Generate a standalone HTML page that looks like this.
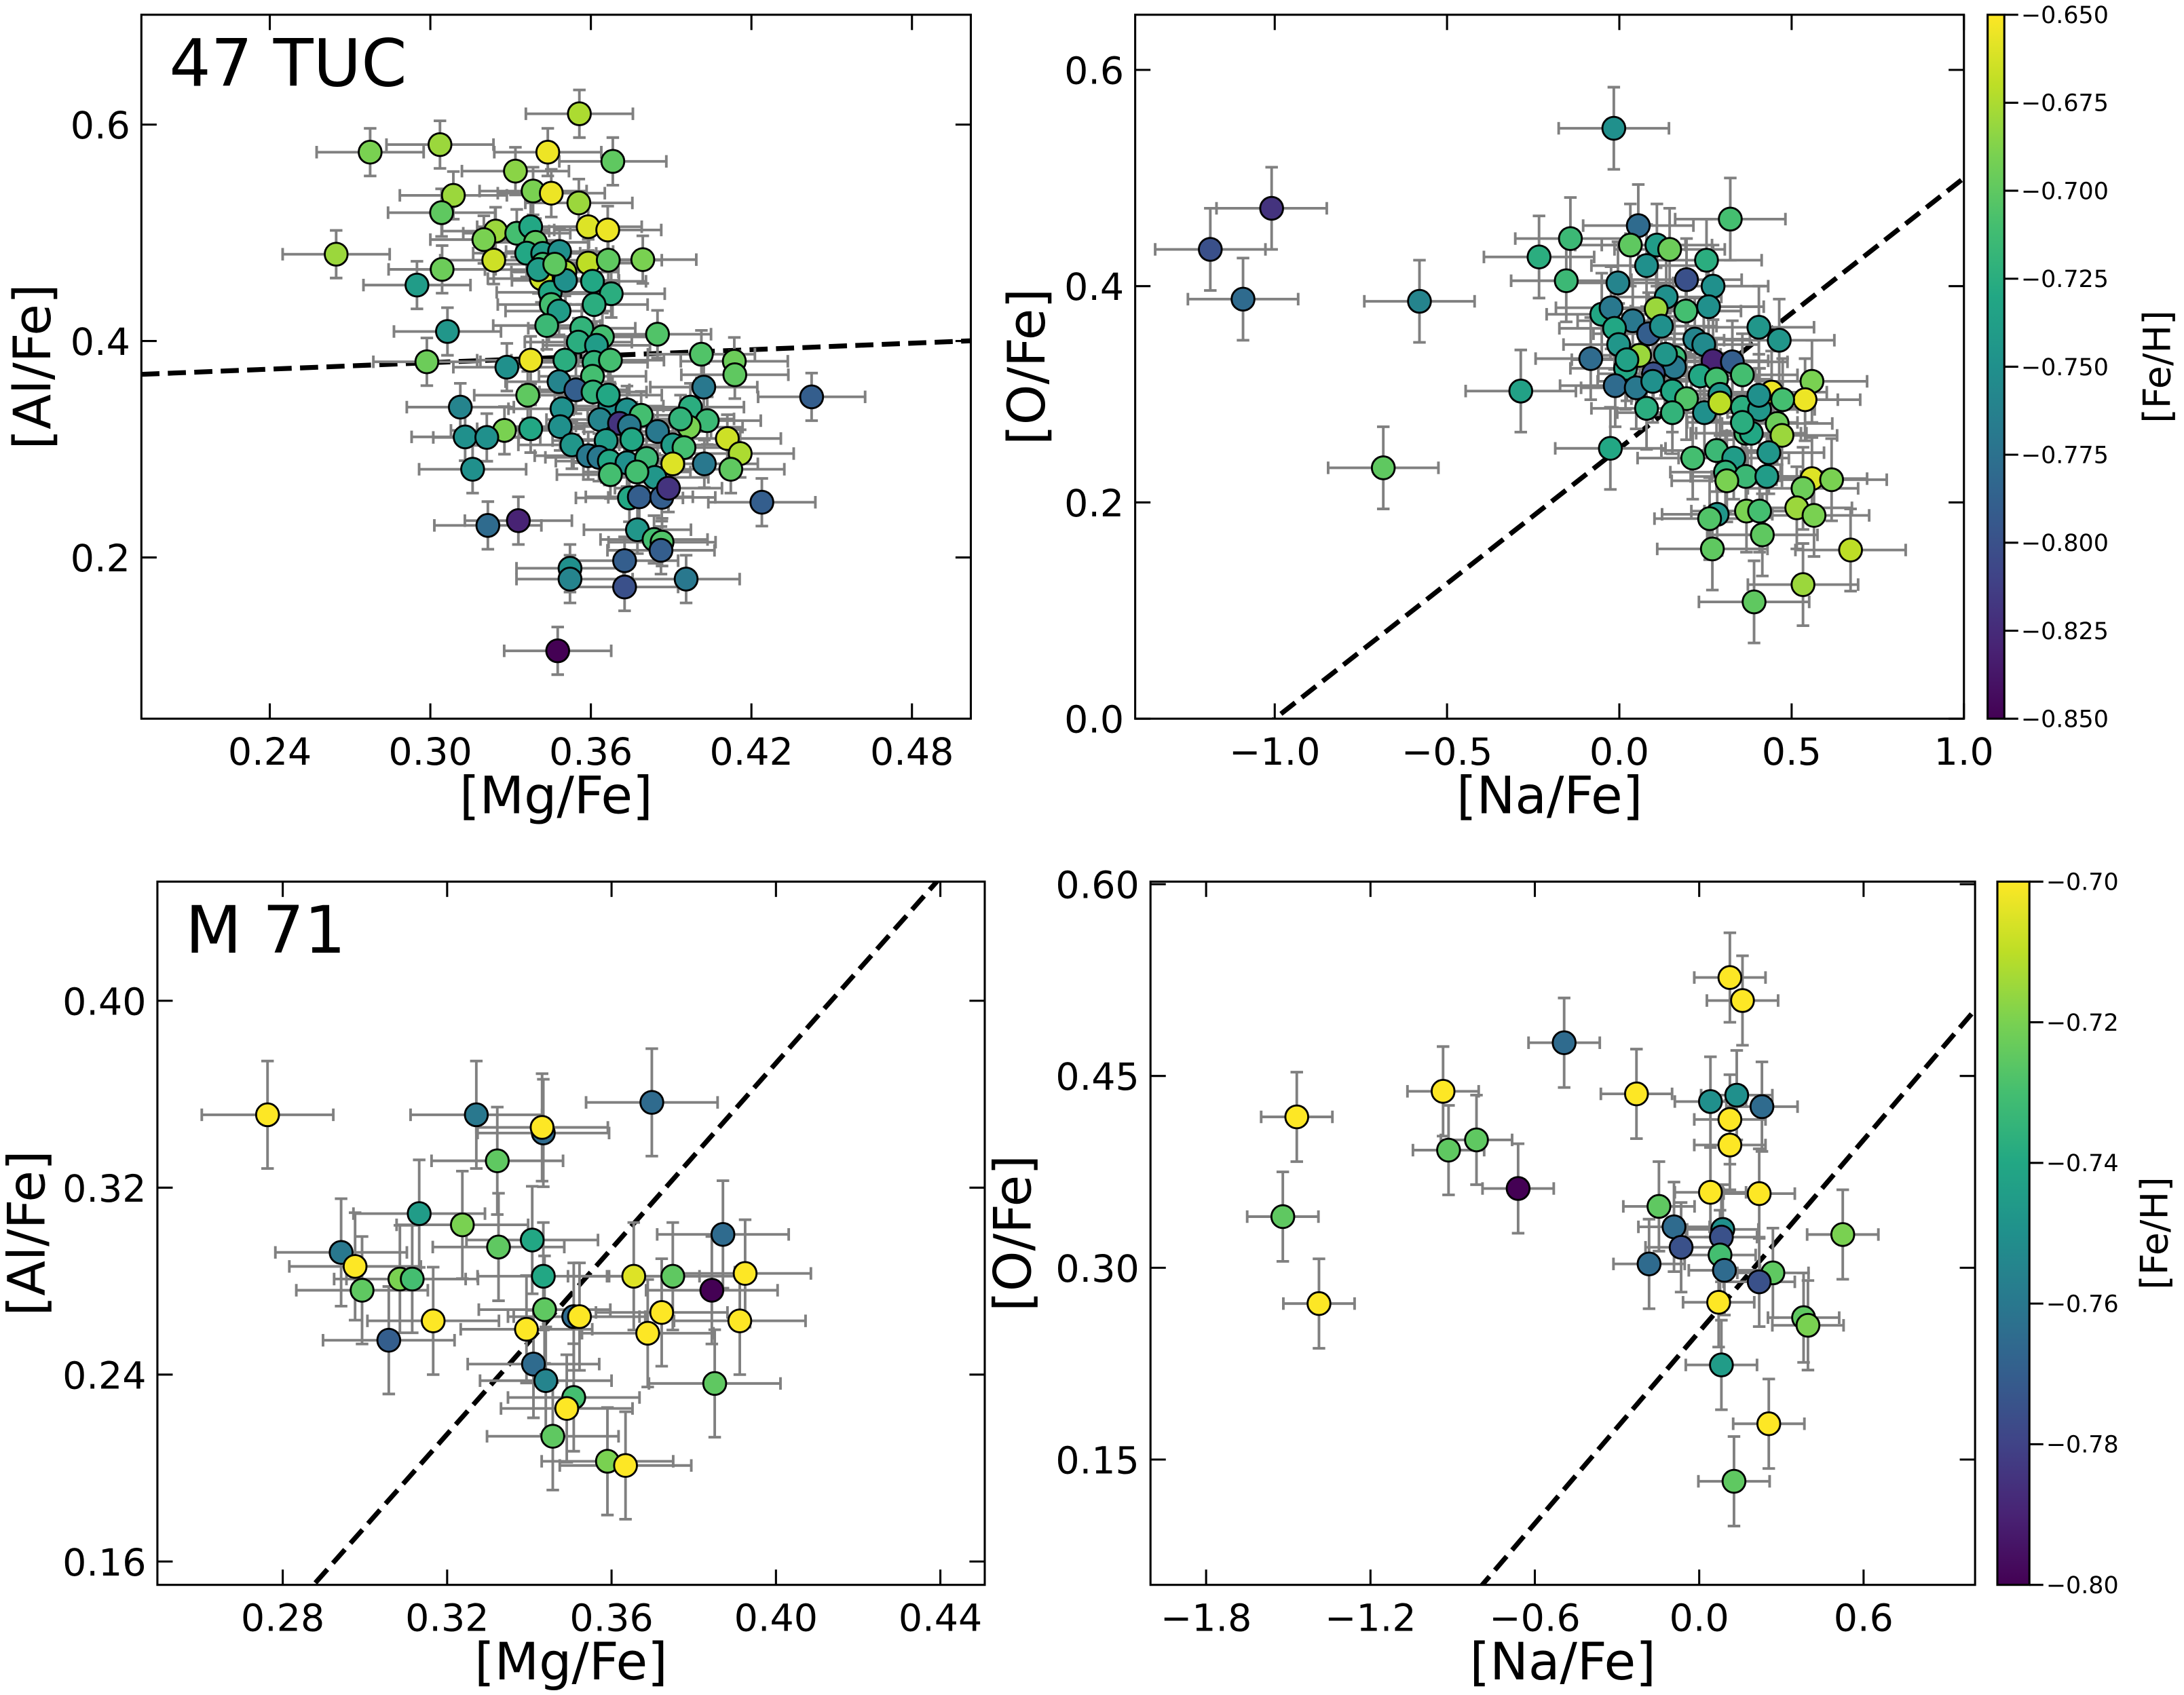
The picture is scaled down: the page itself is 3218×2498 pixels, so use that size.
<!DOCTYPE html>
<html><head><meta charset="utf-8"><style>
html,body{margin:0;padding:0;background:#fff;overflow:hidden;}
svg{display:block;font-family:"DejaVu Sans","Liberation Sans",sans-serif;}
</style></head><body>
<svg id="fig" width="3218" height="2498" viewBox="0 0 1568 1217" xmlns="http://www.w3.org/2000/svg"></svg>
<script>
// ---- Panel A: 47 Tuc [Mg/Fe] vs [Al/Fe]
const tlMg=[0.3557,0.2775,0.3036,0.3439,0.3682,0.3318,0.3086,0.3384,0.3452,0.3042,0.3555,0.359,0.3663,0.3244,0.32,0.3323,0.3375,0.3393,0.2648,0.3237,0.336,0.342,0.3483,0.359,0.3665,0.3794,0.3044,0.342,0.3503,0.295,0.3415,0.3606,0.3676,0.3448,0.3505,0.3452,0.3481,0.3612,0.3435,0.3566,0.3064,0.3849,0.3643,0.3553,0.3621,0.2987,0.3375,0.3286,0.3503,0.3612,0.3673,0.3606,0.4013,0.4136,0.4138,0.3481,0.3544,0.4022,0.4425,0.3364,0.3112,0.3492,0.3671,0.3735,0.3788,0.3972,0.4035,0.3967,0.3634,0.3707,0.3744,0.3375,0.3485,0.3277,0.313,0.3211,0.3849,0.411,0.3529,0.3657,0.3753,0.3906,0.3948,0.4158,0.359,0.363,0.3669,0.3735,0.3808,0.3906,0.4024,0.4123,0.3158,0.3673,0.3839,0.3744,0.3781,0.3865,0.389,0.4239,0.3215,0.3329,0.3774,0.3836,0.3866,0.3862,0.3726,0.3522,0.3522,0.3726,0.3956,0.3476,0.3608,0.3665,0.3935,0.3772,0.3404,0.3465];
const tlAl=[0.610,0.5745,0.5815,0.5745,0.566,0.557,0.5346,0.5386,0.5366,0.5186,0.5276,0.5056,0.5026,0.5016,0.4937,0.4996,0.5056,0.4912,0.4802,0.4747,0.4812,0.481,0.4827,0.472,0.4747,0.4752,0.4662,0.471,0.4637,0.4517,0.4577,0.4552,0.4437,0.445,0.456,0.4337,0.4277,0.4337,0.4143,0.4118,0.4088,0.4063,0.4038,0.399,0.396,0.3808,0.3823,0.3758,0.3823,0.3803,0.3823,0.3674,0.3878,0.3813,0.3688,0.3624,0.3549,0.3574,0.3484,0.3499,0.3389,0.3374,0.3399,0.3364,0.3314,0.3389,0.3264,0.3204,0.3274,0.3239,0.3214,0.3189,0.3209,0.3174,0.3114,0.3109,0.3164,0.3099,0.304,0.308,0.309,0.304,0.3015,0.296,0.294,0.2925,0.289,0.2875,0.2915,0.2865,0.2865,0.2815,0.2815,0.2765,0.274,0.255,0.256,0.2555,0.264,0.251,0.2296,0.234,0.2256,0.2166,0.2141,0.2066,0.197,0.19,0.18,0.1727,0.18,0.1137,0.3529,0.35,0.328,0.279,0.466,0.471];
const tlFe=[-0.675,-0.69,-0.68,-0.655,-0.70,-0.685,-0.68,-0.69,-0.655,-0.70,-0.68,-0.66,-0.655,-0.68,-0.69,-0.71,-0.73,-0.70,-0.68,-0.665,-0.73,-0.74,-0.75,-0.67,-0.70,-0.69,-0.695,-0.71,-0.675,-0.74,-0.665,-0.73,-0.725,-0.73,-0.75,-0.71,-0.74,-0.725,-0.715,-0.72,-0.745,-0.705,-0.71,-0.725,-0.74,-0.695,-0.655,-0.75,-0.725,-0.72,-0.71,-0.71,-0.705,-0.695,-0.70,-0.76,-0.79,-0.77,-0.79,-0.70,-0.76,-0.75,-0.75,-0.75,-0.71,-0.725,-0.715,-0.69,-0.76,-0.82,-0.77,-0.73,-0.75,-0.69,-0.75,-0.75,-0.77,-0.665,-0.745,-0.74,-0.73,-0.74,-0.71,-0.675,-0.77,-0.77,-0.73,-0.75,-0.715,-0.66,-0.77,-0.70,-0.75,-0.71,-0.745,-0.73,-0.79,-0.79,-0.82,-0.79,-0.78,-0.83,-0.745,-0.71,-0.705,-0.79,-0.79,-0.75,-0.76,-0.80,-0.77,-0.85,-0.72,-0.73,-0.72,-0.71,-0.74,-0.70];
const tlXTicks=[0.24,0.30,0.36,0.42,0.48];
const tlXTickLabels=["0.24","0.30","0.36","0.42","0.48"];
const tlYTicks=[0.2,0.4,0.6];
const tlYTickLabels=["0.2","0.4","0.6"];

// ---- Panel B: 47 Tuc [Na/Fe] vs [O/Fe]
const trNa=[-0.016,-1.009,-1.187,-1.092,-0.58,-0.286,-0.685,-0.026,0.322,0.055,-0.142,0.032,0.109,0.146,-0.233,0.253,0.079,-0.154,-0.004,0.195,0.272,0.136,0.193,0.107,0.259,-0.051,-0.024,0.039,-0.014,0.085,0.122,0.405,0.464,-0.002,0.219,0.245,-0.083,0.059,0.16,0.272,0.328,0.16,0.018,0.099,0.235,0.282,0.357,0.559,-0.012,0.049,0.097,0.154,0.292,0.442,0.539,0.474,0.195,0.079,0.154,0.247,0.292,0.357,0.407,0.458,0.472,0.367,0.383,0.434,0.282,0.332,0.213,0.308,0.367,0.428,0.312,0.559,0.616,0.533,0.515,0.565,0.369,0.407,0.284,0.262,0.415,0.27,0.671,0.533,0.391,0.022,0.134,0.405,0.357];
const trO=[0.546,0.472,0.434,0.388,0.386,0.303,0.232,0.25,0.462,0.456,0.444,0.438,0.438,0.434,0.427,0.424,0.419,0.405,0.403,0.406,0.40,0.39,0.377,0.379,0.381,0.374,0.38,0.368,0.361,0.356,0.363,0.362,0.35,0.346,0.351,0.346,0.333,0.336,0.334,0.331,0.33,0.325,0.324,0.319,0.317,0.314,0.318,0.312,0.308,0.306,0.312,0.303,0.30,0.302,0.295,0.295,0.296,0.287,0.283,0.283,0.292,0.288,0.286,0.273,0.262,0.264,0.264,0.246,0.248,0.241,0.241,0.228,0.224,0.224,0.22,0.222,0.221,0.213,0.195,0.188,0.192,0.192,0.189,0.185,0.17,0.157,0.156,0.124,0.108,0.332,0.337,0.299,0.274];
const trFe=[-0.75,-0.82,-0.80,-0.78,-0.76,-0.735,-0.70,-0.73,-0.71,-0.78,-0.715,-0.70,-0.74,-0.695,-0.725,-0.725,-0.75,-0.715,-0.76,-0.80,-0.75,-0.75,-0.71,-0.68,-0.75,-0.73,-0.77,-0.77,-0.73,-0.79,-0.75,-0.745,-0.745,-0.745,-0.76,-0.755,-0.78,-0.68,-0.715,-0.83,-0.79,-0.77,-0.73,-0.80,-0.73,-0.71,-0.71,-0.69,-0.78,-0.77,-0.75,-0.73,-0.745,-0.655,-0.655,-0.71,-0.705,-0.725,-0.72,-0.75,-0.67,-0.725,-0.745,-0.695,-0.68,-0.71,-0.73,-0.745,-0.715,-0.74,-0.71,-0.72,-0.715,-0.74,-0.69,-0.66,-0.69,-0.695,-0.68,-0.69,-0.69,-0.71,-0.745,-0.705,-0.70,-0.70,-0.67,-0.68,-0.70,-0.735,-0.745,-0.75,-0.725];
const trXTicks=[-1.0,-0.5,0.0,0.5,1.0];
const trXTickLabels=["\u22121.0","\u22120.5","0.0","0.5","1.0"];
const trYTicks=[0.0,0.2,0.4,0.6];
const trYTickLabels=["0.0","0.2","0.4","0.6"];
const trCbTicks=[-0.85,-0.825,-0.8,-0.775,-0.75,-0.725,-0.7,-0.675,-0.65];
const trCbLabels=["\u22120.850","\u22120.825","\u22120.800","\u22120.775","\u22120.750","\u22120.725","\u22120.700","\u22120.675","\u22120.650"];

// ---- Panel C: M71 [Mg/Fe] vs [Al/Fe]
const blMg=[0.2763,0.3271,0.3434,0.3431,0.3698,0.3322,0.3132,0.3237,0.3407,0.3325,0.3871,0.2942,0.2976,0.3085,0.3115,0.2993,0.3434,0.3654,0.3749,0.3925,0.3844,0.3437,0.3508,0.3522,0.3166,0.3722,0.3912,0.3393,0.3058,0.3688,0.341,0.344,0.3851,0.3508,0.3491,0.3457,0.359,0.3634];
const blAl=[0.3512,0.3512,0.3434,0.3458,0.3565,0.3315,0.3089,0.3041,0.2976,0.2946,0.30,0.2923,0.2863,0.2809,0.2809,0.2761,0.2821,0.2821,0.2821,0.2833,0.2761,0.2678,0.2648,0.2648,0.263,0.2666,0.263,0.2594,0.2547,0.2577,0.2445,0.2374,0.2362,0.2302,0.2255,0.2136,0.2029,0.2011];
const blFe=[-0.70,-0.76,-0.765,-0.70,-0.765,-0.725,-0.745,-0.72,-0.74,-0.725,-0.765,-0.76,-0.70,-0.72,-0.73,-0.725,-0.74,-0.705,-0.725,-0.70,-0.80,-0.725,-0.765,-0.70,-0.70,-0.70,-0.70,-0.70,-0.77,-0.70,-0.765,-0.755,-0.725,-0.73,-0.70,-0.725,-0.72,-0.70];
const blXTicks=[0.28,0.32,0.36,0.40,0.44];
const blXTickLabels=["0.28","0.32","0.36","0.40","0.44"];
const blYTicks=[0.16,0.24,0.32,0.40];
const blYTickLabels=["0.16","0.24","0.32","0.40"];

// ---- Panel D: M71 [Na/Fe] vs [O/Fe]
const brNa=[0.112,0.158,-0.493,-0.935,-0.229,0.041,0.137,0.229,-1.469,0.112,0.112,-0.813,-0.915,-0.661,0.041,0.219,-0.147,-1.52,0.524,-0.092,0.086,0.081,-0.066,0.076,-0.183,0.269,0.092,0.219,0.071,-1.388,0.381,0.397,0.081,0.254,0.127];
const brO=[0.527,0.509,0.476,0.438,0.436,0.430,0.435,0.426,0.418,0.416,0.396,0.40,0.392,0.362,0.359,0.358,0.348,0.34,0.326,0.332,0.330,0.324,0.316,0.31,0.303,0.296,0.298,0.289,0.273,0.272,0.261,0.255,0.224,0.178,0.133];
const brFe=[-0.70,-0.70,-0.765,-0.70,-0.70,-0.75,-0.75,-0.765,-0.70,-0.70,-0.70,-0.725,-0.725,-0.80,-0.70,-0.70,-0.725,-0.725,-0.72,-0.765,-0.75,-0.775,-0.775,-0.73,-0.765,-0.725,-0.765,-0.775,-0.70,-0.70,-0.725,-0.72,-0.745,-0.70,-0.725];
const brXTicks=[-1.8,-1.2,-0.6,0.0,0.6];
const brXTickLabels=["\u22121.8","\u22121.2","\u22120.6","0.0","0.6"];
const brYTicks=[0.15,0.30,0.45,0.60];
const brYTickLabels=["0.15","0.30","0.45","0.60"];
const brCbTicks=[-0.80,-0.78,-0.76,-0.74,-0.72,-0.70];
const brCbLabels=["\u22120.80","\u22120.78","\u22120.76","\u22120.74","\u22120.72","\u22120.70"];

const NS="http://www.w3.org/2000/svg";
const svg=document.getElementById('fig');
const VIR=[[68,1,84],[72,35,116],[64,67,135],[52,94,141],[41,120,142],[32,144,140],[34,167,132],[68,190,112],[121,209,81],[189,222,38],[253,231,37]];
function viridis(t){t=Math.max(0,Math.min(1,t));const f=t*(VIR.length-1);const i=Math.min(VIR.length-2,Math.floor(f));const r=f-i;const a=VIR[i],b=VIR[i+1];
return 'rgb('+a.map((v,k)=>Math.round(v+(b[k]-v)*r)).join(',')+')';}
function el(tag,attrs,parent){const e=document.createElementNS(NS,tag);for(const k in attrs)e.setAttribute(k,attrs[k]);(parent||svg).appendChild(e);return e;}

function panel(cfg){
  const g=el('g',{});
  
  
  const X=v=>cfg.x0+(v-cfg.xmin)/(cfg.xmax-cfg.xmin)*(cfg.x1-cfg.x0);
  const Y=v=>cfg.y1-(v-cfg.ymin)/(cfg.ymax-cfg.ymin)*(cfg.y1-cfg.y0);
  const clip='clip-'+cfg.name;
  const cp=el('clipPath',{id:clip},g);el('rect',{x:cfg.x0,y:cfg.y0,width:cfg.x1-cfg.x0,height:cfg.y1-cfg.y0},cp);
  const plot=el('g',{'clip-path':'url(#'+clip+')'},g);
  const ln=el('line',{x1:X(cfg.xmin),y1:Y(cfg.lineA*cfg.xmin+cfg.lineB),x2:X(cfg.xmax),y2:Y(cfg.lineA*cfg.xmax+cfg.lineB),stroke:'#000','stroke-width':3.5,'stroke-dasharray':'13,6'},plot);
  
  
  const n=cfg.xs.length;
  for(let i=0;i<n;i++){
    const cx=X(cfg.xs[i]),cy=Y(cfg.ys[i]);
    const xl=X(cfg.xs[i]-cfg.ex),xr=X(cfg.xs[i]+cfg.ex),yt=Y(cfg.ys[i]+cfg.ey),yb=Y(cfg.ys[i]-cfg.ey);
    const eg=el('g',{stroke:'#808080','stroke-width':1.9},plot);
    
    
    el('line',{x1:xl,y1:cy,x2:xr,y2:cy},eg);el('line',{x1:cx,y1:yt,x2:cx,y2:yb},eg);
    el('line',{x1:xl,y1:cy-4.5,x2:xl,y2:cy+4.5},eg);el('line',{x1:xr,y1:cy-4.5,x2:xr,y2:cy+4.5},eg);
    el('line',{x1:cx-4.5,y1:yt,x2:cx+4.5,y2:yt},eg);el('line',{x1:cx-4.5,y1:yb,x2:cx+4.5,y2:yb},eg);
  }
  for(let i=0;i<n;i++){
    const c=el('circle',{cx:X(cfg.xs[i]),cy:Y(cfg.ys[i]),r:8.2,fill:viridis((cfg.cs[i]-cfg.cmin)/(cfg.cmax-cfg.cmin)),stroke:'#000','stroke-width':1.4},plot);
    
    
  }
  const fr=el('rect',{x:cfg.x0,y:cfg.y0,width:cfg.x1-cfg.x0,height:cfg.y1-cfg.y0,fill:'none',stroke:'#000','stroke-width':1.5},g);
  
  
  cfg.xt.forEach((v,i)=>{const x=X(v);
    el('line',{x1:x,y1:cfg.y1,x2:x,y2:cfg.y1-11,stroke:'#000','stroke-width':1.5},g);
    el('line',{x1:x,y1:cfg.y0,x2:x,y2:cfg.y0+11,stroke:'#000','stroke-width':1.5},g);
    const t=el('text',{x:x,y:cfg.y1+33,'font-size':27,'text-anchor':'middle'},g);t.textContent=cfg.xtl[i];
    
    
  });
  cfg.yt.forEach((v,i)=>{const y=Y(v);
    el('line',{x1:cfg.x0,y1:y,x2:cfg.x0+11,y2:y,stroke:'#000','stroke-width':1.5},g);
    el('line',{x1:cfg.x1,y1:y,x2:cfg.x1-11,y2:y,stroke:'#000','stroke-width':1.5},g);
    const t=el('text',{x:cfg.x0-8,y:y+10,'font-size':27,'text-anchor':'end'},g);t.textContent=cfg.ytl[i];
    
    
  });
  const xl=el('text',{x:(cfg.x0+cfg.x1)/2,y:cfg.y1+68,'font-size':37,'text-anchor':'middle'},g);xl.textContent=cfg.xlabel;
  
  
  const yl=el('text',{x:0,y:0,'font-size':37,'text-anchor':'middle',transform:'translate('+cfg.ylx+','+((cfg.y0+cfg.y1)/2)+') rotate(-90)'},g);yl.textContent=cfg.ylabel;
  
  
  if(cfg.title){const tt=el('text',{x:cfg.x0+20,y:cfg.y0+51,'font-size':47},g);tt.textContent=cfg.title;
    
    }
  if(cfg.cb){const cb=cfg.cb;
    const gg=el('g',{},g);
    
    
    const gid='grad-'+cfg.name;const lg=el('linearGradient',{id:gid,x1:0,y1:1,x2:0,y2:0},gg);
    for(let k=0;k<=20;k++){el('stop',{offset:k/20,'stop-color':viridis(k/20)},lg);}
    el('rect',{x:cb.x0,y:cfg.y0,width:cb.x1-cb.x0,height:cfg.y1-cfg.y0,fill:'url(#'+gid+')',stroke:'#000','stroke-width':1.5},gg);
    const CY=v=>cfg.y1-(v-cfg.cmin)/(cfg.cmax-cfg.cmin)*(cfg.y1-cfg.y0);
    cb.ticks.forEach((v,i)=>{const y=CY(v);
      el('line',{x1:cb.x1,y1:y,x2:cb.x1+10,y2:y,stroke:'#000','stroke-width':1.5},gg);
      const t=el('text',{x:cb.x1+12,y:y+6,'font-size':17},gg);t.textContent=cb.labels[i];
      
      
    });
    const cl=el('text',{x:0,y:0,'font-size':27,'text-anchor':'middle',transform:'translate('+cb.lx+','+((cfg.y0+cfg.y1)/2)+') rotate(-90)'},gg);cl.textContent='[Fe/H]';
    
    
  }
}

panel({name:'panel-47tuc-mg-al',x0:101.5,x1:697,y0:10.5,y1:516,xmin:0.192,xmax:0.502,ymin:0.051,ymax:0.7015,
  xs:tlMg,ys:tlAl,cs:tlFe,cmin:-0.85,cmax:-0.65,ex:0.02,ey:0.022,lineA:0.1,lineB:0.35,
  xt:tlXTicks,xtl:tlXTickLabels,yt:tlYTicks,ytl:tlYTickLabels,xlabel:'[Mg/Fe]',ylabel:'[Al/Fe]',ylx:36,title:'47 TUC'});
panel({name:'panel-47tuc-na-o',x0:815,x1:1410,y0:10.5,y1:516,xmin:-1.405,xmax:1.0,ymin:0,ymax:0.651,
  xs:trNa,ys:trO,cs:trFe,cmin:-0.85,cmax:-0.65,ex:0.16,ey:0.038,lineA:0.25,lineB:0.25,
  xt:trXTicks,xtl:trXTickLabels,yt:trYTicks,ytl:trYTickLabels,xlabel:'[Na/Fe]',ylabel:'[O/Fe]',ylx:750,
  cb:{x0:1427,x1:1439,ticks:trCbTicks,labels:trCbLabels,lx:1558}});
panel({name:'panel-m71-mg-al',x0:113,x1:707,y0:633,y1:1138,xmin:0.2495,xmax:0.4508,ymin:0.150,ymax:0.451,
  xs:blMg,ys:blAl,cs:blFe,cmin:-0.80,cmax:-0.70,ex:0.016,ey:0.023,lineA:1.985,lineB:-0.4207,
  xt:blXTicks,xtl:blXTickLabels,yt:blYTicks,ytl:blYTickLabels,xlabel:'[Mg/Fe]',ylabel:'[Al/Fe]',ylx:32,title:'M 71'});
panel({name:'panel-m71-na-o',x0:826,x1:1418,y0:633,y1:1138,xmin:-2.003,xmax:1.007,ymin:0.052,ymax:0.602,
  xs:brNa,ys:brO,cs:brFe,cmin:-0.80,cmax:-0.70,ex:0.13,ey:0.035,lineA:0.25,lineB:0.25,
  xt:brXTicks,xtl:brXTickLabels,yt:brYTicks,ytl:brYTickLabels,xlabel:'[Na/Fe]',ylabel:'[O/Fe]',ylx:740,
  cb:{x0:1434,x1:1457,ticks:brCbTicks,labels:brCbLabels,lx:1556}});
</script>
</body></html>
